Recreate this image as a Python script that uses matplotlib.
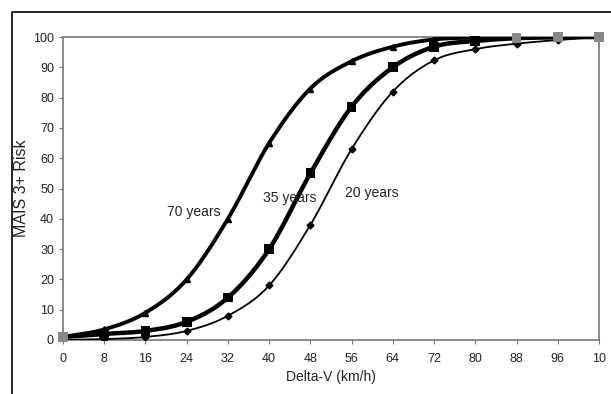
import numpy as np
import matplotlib
matplotlib.use("Agg")
import matplotlib.pyplot as plt
from matplotlib.patches import Rectangle

plt.rcParams['font.family'] = ['Liberation Sans', 'DejaVu Sans']

delta_v = [0, 8, 16, 24, 32, 40, 48, 56, 64, 72, 80, 88, 96, 104]
x_tick_labels = ["0", "8", "16", "24", "32", "40", "48", "56", "64", "72", "80", "88", "96", "10"]
risk_70 = [1, 3.5, 9, 20, 40, 65, 83, 92, 96.8, 99.2, 99.8, 100, 100, 100]
risk_35 = [1, 2, 3, 6, 14, 30, 55, 77, 90, 96.8, 98.7, 99.6, 99.9, 100]
risk_20 = [0, 0.3, 1, 3, 8, 18, 38, 63, 82, 92.3, 96, 97.8, 99, 100]
y_ticks = [0, 10, 20, 30, 40, 50, 60, 70, 80, 90, 100]


def smooth(x, y, n=20):
    # Catmull-Rom smoothing for drawing (like Excel smoothed lines)
    x = np.asarray(x, float); y = np.asarray(y, float)
    px = np.concatenate([[2 * x[0] - x[1]], x, [2 * x[-1] - x[-2]]])
    py = np.concatenate([[2 * y[0] - y[1]], y, [2 * y[-1] - y[-2]]])
    xs, ys = [], []
    t = np.linspace(0, 1, n, endpoint=False)
    for i in range(1, len(px) - 2):
        for arr, out in ((px, xs), (py, ys)):
            p0, p1, p2, p3 = arr[i - 1], arr[i], arr[i + 1], arr[i + 2]
            out.append(0.5 * ((2 * p1) + (-p0 + p2) * t + (2 * p0 - 5 * p1 + 4 * p2 - p3) * t ** 2
                              + (-p0 + 3 * p1 - 3 * p2 + p3) * t ** 3))
    xs.append([x[-1]]); ys.append([y[-1]])
    return np.concatenate(xs), np.concatenate(ys)


fig = plt.figure(figsize=(6.11, 3.94), dpi=100)
ax = fig.add_axes([63 / 611, 1 - 340 / 394, (599 - 63) / 611, (340 - 37) / 394])

for ys, lw, mk, ms in ((risk_20, 1.3, 'D', 3.5), (risk_35, 3.2, 's', 7), (risk_70, 2.8, '^', 4)):
    sx, sy = smooth(delta_v, ys)
    ax.plot(sx, sy, color='black', lw=lw, solid_capstyle='round', zorder=3)
    if mk == 's':
        cols = ['#888888' if v in (0, 88, 96, 104) else 'black' for v in delta_v]
        ax.scatter(delta_v, ys, marker='s', s=ms ** 2, c=cols, zorder=6, linewidths=0, clip_on=False)
    else:
        ax.plot(delta_v, ys, linestyle='none', marker=mk, ms=ms, color='black', zorder=4)

ax.set_xlim(0, 104)
ax.set_ylim(0, 100)
ax.set_xticks(delta_v)
ax.set_xticklabels(x_tick_labels)
ax.set_yticks(y_ticks)
for s in ax.spines.values():
    s.set_color('#777777')
    s.set_linewidth(1.2)
ax.tick_params(axis='both', colors='#777777', labelcolor='#222222', labelsize=9, length=3, width=0.8)
ax.tick_params(axis='x', pad=6)

ax.set_xlabel('Delta-V (km/h)', fontsize=10, color='#222222', labelpad=4)
ax.set_ylabel('MAIS 3+ Risk', fontsize=11.5, color='#222222', labelpad=3)

ax.text(30.5, 42.2, '70 years', fontsize=10, color='#222222', ha='right', va='center')
ax.text(44, 46.9, '35 years', fontsize=10, color='#222222', ha='center', va='center')
ax.text(54.7, 48.5, '20 years', fontsize=10, color='#222222', ha='left', va='center')

fig.patches.append(Rectangle((12 / 611, -0.1), 1.2, 1 - 12 / 394 + 0.1, transform=fig.transFigure,
                             fill=False, edgecolor='black', lw=1.2))

fig.savefig('out.png', dpi=100)
